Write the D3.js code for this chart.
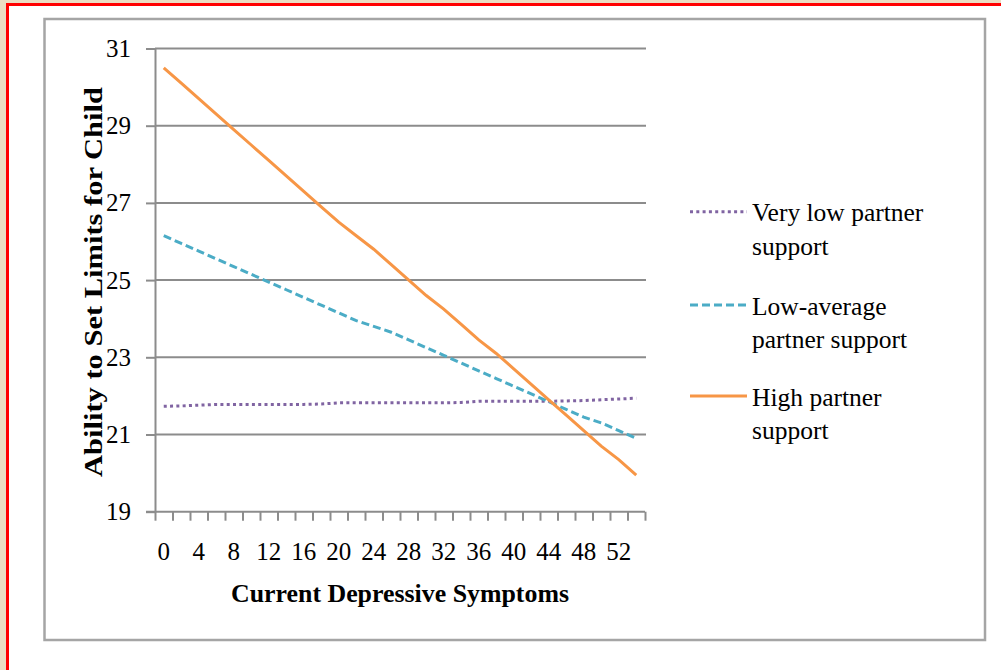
<!DOCTYPE html>
<html>
<head>
<meta charset="utf-8">
<script src="https://cdn.jsdelivr.net/npm/d3@7"></script>
<style>
  html, body { margin: 0; padding: 0; background: #ebddc3; }
  svg { display: block; }
</style>
</head>
<body>
<svg id="chart" width="1001" height="670"></svg>
<script>
// ---- data ----
const categories = [0,2,4,6,8,10,12,14,16,18,20,22,24,26,28,30,32,34,36,38,40,42,44,46,48,50,52,54];
const tickLabels = ["0","4","8","12","16","20","24","28","32","36","40","44","48","52"];
const yTicks = [19,21,23,25,27,29,31];
const seriesNames = ["Very low partner support", "Low-average partner support", "High partner support"];
const legendLines = [["Very low partner", "support"], ["Low-average", "partner support"], ["High partner", "support"]];
const veryLow = [21.73,21.74,21.76,21.78,21.78,21.78,21.78,21.78,21.78,21.79,21.82,21.82,21.82,21.82,21.82,21.82,21.82,21.83,21.86,21.86,21.86,21.86,21.86,21.87,21.88,21.90,21.92,21.94];
const lowAverage = [26.15,25.95,25.75,25.55,25.35,25.15,24.95,24.75,24.55,24.35,24.15,23.95,23.80,23.65,23.45,23.25,23.05,22.85,22.65,22.45,22.25,22.05,21.85,21.65,21.45,21.30,21.10,20.90];
const high = [30.50,30.10,29.70,29.30,28.90,28.50,28.10,27.70,27.30,26.90,26.50,26.15,25.80,25.40,25.00,24.60,24.25,23.85,23.45,23.10,22.70,22.30,21.90,21.50,21.10,20.70,20.35,19.95];
const xTitle = "Current Depressive Symptoms";
const yTitle = "Ability to Set Limits for Child";

(function () {
// ---- styles ----
const colors = ["#8064a2", "#4bacc6", "#f79646"];
const dashes = ["3,3.3", "8,4", null];
const font = "'Liberation Serif', 'Times New Roman', serif";
const gridColor = "#8c8c8c";

const svg = d3.select("#chart");

// page frame
svg.append("rect").attr("x", 0).attr("y", 0).attr("width", 1001).attr("height", 670).attr("fill", "#ebddc3");
svg.append("rect").attr("x", 6).attr("y", 3).attr("width", 995).attr("height", 667).attr("fill", "#ff0000");
svg.append("rect").attr("x", 9).attr("y", 6).attr("width", 992).attr("height", 664).attr("fill", "#ffffff");
// chart box
svg.append("rect").attr("x", 44.5).attr("y", 19).attr("width", 940.5).attr("height", 621)
  .attr("fill", "#ffffff").attr("stroke", "#a5a5a5").attr("stroke-width", 2.5);

const pLeft = 155, pRight = 645, pTop = 48.5, pBottom = 511.7;

const x = d3.scaleBand().domain(categories).range([pLeft, pRight]).padding(0);
const xEdge = d3.scaleLinear().domain([0, categories.length]).range([pLeft, pRight]);
const y = d3.scaleLinear().domain([19, 31]).range([pBottom, pTop]);

// gridlines
svg.append("g").selectAll("line").data(yTicks.filter(d => d !== 19)).join("line")
  .attr("x1", pLeft).attr("x2", pRight + 1)
  .attr("y1", d => y(d)).attr("y2", d => y(d))
  .attr("stroke", gridColor).attr("stroke-width", 2);

// y axis
const yAxis = svg.append("g").attr("transform", `translate(${pLeft},0)`)
  .call(d3.axisLeft(y).tickValues(yTicks).tickSize(9).tickPadding(15).tickSizeOuter(0));
yAxis.select(".domain").attr("stroke", gridColor).attr("stroke-width", 2);
yAxis.selectAll(".tick line").attr("stroke", gridColor).attr("stroke-width", 2);
yAxis.selectAll(".tick text").attr("font-family", font).attr("font-size", 25).attr("fill", "#000");

// x axis tick marks at category boundaries
const xTickAxis = svg.append("g").attr("transform", `translate(0,${pBottom})`)
  .call(d3.axisBottom(xEdge).tickValues(d3.range(0, categories.length + 1)).tickSize(9).tickFormat("").tickSizeOuter(0));
xTickAxis.select(".domain").attr("stroke", gridColor).attr("stroke-width", 2).attr("d", `M${pLeft - 9},0H${pRight}`);
xTickAxis.selectAll(".tick line").attr("stroke", gridColor).attr("stroke-width", 2);

// x axis labels at category centres
const xLabAxis = svg.append("g").attr("transform", `translate(0,${pBottom})`)
  .call(d3.axisBottom(x).tickValues(categories.filter(c => tickLabels.includes(String(c)))).tickSize(0));
xLabAxis.select(".domain").remove();
xLabAxis.selectAll(".tick text").attr("font-family", font).attr("font-size", 25).attr("fill", "#000")
  .attr("y", 48).attr("dy", 0);

// axis titles
svg.append("text").attr("x", (pLeft + pRight) / 2).attr("y", 602)
  .attr("text-anchor", "middle").attr("font-family", font).attr("font-size", 26).attr("font-weight", "bold")
  .attr("textLength", 338).attr("lengthAdjust", "spacingAndGlyphs")
  .text(xTitle);
svg.append("text").attr("transform", `translate(102,282) rotate(-90)`)
  .attr("text-anchor", "middle").attr("font-family", font).attr("font-size", 26).attr("font-weight", "bold")
  .attr("textLength", 390).attr("lengthAdjust", "spacingAndGlyphs")
  .text(yTitle);

// lines
const series = [veryLow, lowAverage, high];
const line = d3.line().x((d, i) => x(categories[i]) + x.bandwidth() / 2).y(d => y(d));
svg.append("g").selectAll("path").data(series).join("path")
  .attr("d", d => line(d))
  .attr("fill", "none")
  .attr("stroke", (d, i) => colors[i])
  .attr("stroke-width", 3)
  .attr("stroke-dasharray", (d, i) => dashes[i]);

// legend
const legendY = [211.7, 305, 396];
const lg = svg.append("g").selectAll("g").data(seriesNames).join("g")
  .attr("transform", (d, i) => `translate(690,${legendY[i]})`);
lg.append("line").attr("x1", 0).attr("x2", 57).attr("y1", 0).attr("y2", 0)
  .attr("stroke", (d, i) => colors[i]).attr("stroke-width", 3)
  .attr("stroke-dasharray", (d, i) => dashes[i]);
lg.each(function(d, i) {
  const t = d3.select(this).append("text").attr("font-family", font).attr("font-size", 25.5).attr("fill", "#000");
  legendLines[i].forEach((s, j) => {
    t.append("tspan").attr("x", 62).attr("y", 9.5 + j * 33.5).text(s);
  });
});
})();
</script>
</body>
</html>
